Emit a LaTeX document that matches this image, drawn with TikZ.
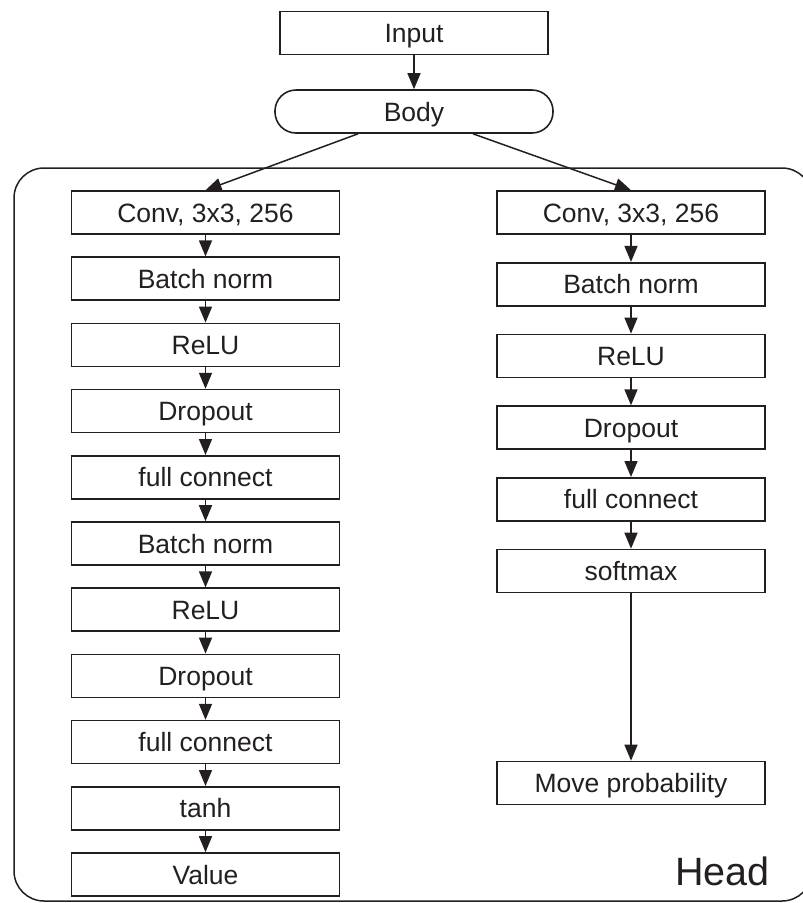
\documentclass[tikz,border=0pt]{standalone}
\usepackage{fontspec}
\setmainfont{Liberation Sans}
\usetikzlibrary{arrows.meta}
\definecolor{ink}{RGB}{35,31,32}
\begin{document}
\begin{tikzpicture}[x=1pt,y=-1pt,
  blk/.style={draw=ink, line width=1.6pt, minimum width=268pt, minimum height=43pt, inner sep=0pt,
    font=\fontsize{26.5}{30}\selectfont, text height=19pt, text depth=0pt, text=ink},
  pill/.style={blk, minimum width=278pt, rounded corners=21pt},
  arr/.style={draw=ink, line width=1.5pt, -{Triangle[length=16pt,width=13pt]}},
  frame/.style={draw=ink, line width=1.5pt, rounded corners=30pt}
  ]
\useasboundingbox (0,0) rectangle (803,903);
\clip (0,0) rectangle (803,903);
% head frame
\draw[frame] (14,168) rectangle (812,901);
\node[anchor=base east, inner sep=0pt, font=\fontsize{39.5}{44}\selectfont, text=ink] (head) at (770,885) {Head};
% top
\node[blk] (input) at (414,33) {Input};
\node[pill] (body) at (414,111.5) {Body};
% left column
\node[blk] (l0) at (205.5,212.5) {Conv, 3x3, 256};
\node[blk] (l1) at (205.5,278.7) {Batch norm};
\node[blk] (l2) at (205.5,344.9) {ReLU};
\node[blk] (l3) at (205.5,411.1) {Dropout};
\node[blk] (l4) at (205.5,477.3) {full connect};
\node[blk] (l5) at (205.5,543.5) {Batch norm};
\node[blk] (l6) at (205.5,609.7) {ReLU};
\node[blk] (l7) at (205.5,675.9) {Dropout};
\node[blk] (l8) at (205.5,742.1) {full connect};
\node[blk] (l9) at (205.5,808.3) {tanh};
\node[blk] (l10) at (205.5,874.5) {Value};
% right column
\node[blk] (r0) at (631,212.5) {Conv, 3x3, 256};
\node[blk] (r1) at (631,284.2) {Batch norm};
\node[blk] (r2) at (631,355.9) {ReLU};
\node[blk] (r3) at (631,427.6) {Dropout};
\node[blk] (r4) at (631,499.3) {full connect};
\node[blk] (r5) at (631,571) {softmax};
\node[blk] (r6) at (631,783) {Move probability};
% connectors
\draw[arr] (input) -- (body);
\draw[arr] ([xshift=-56pt]body.south) -- (l0.north);
\draw[arr] ([xshift=59pt]body.south) -- (r0.north);
\foreach \a/\b in {l0/l1,l1/l2,l2/l3,l3/l4,l4/l5,l5/l6,l6/l7,l7/l8,l8/l9,l9/l10,r0/r1,r1/r2,r2/r3,r3/r4,r4/r5,r5/r6}
  \draw[arr] (\a) -- (\b);
\end{tikzpicture}
\end{document}
